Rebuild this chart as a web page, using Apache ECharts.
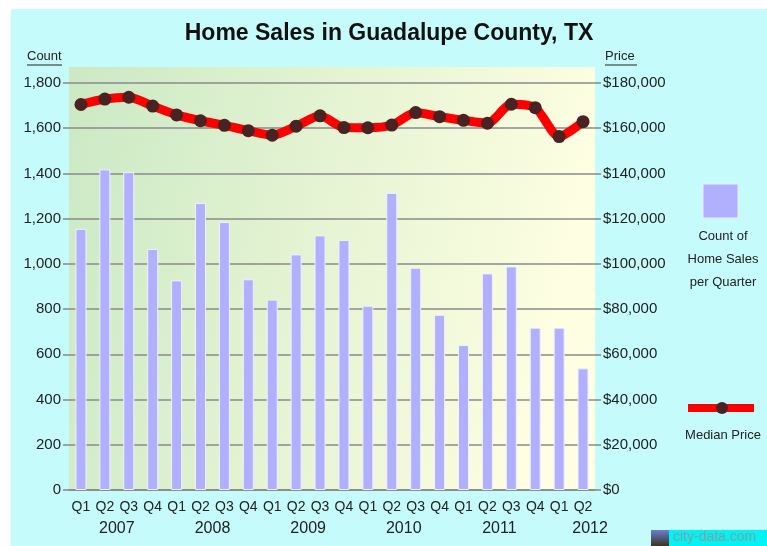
<!DOCTYPE html>
<html lang="en">
<head>
    <meta charset="UTF-8">
    <title>Home Sales in Guadalupe County, TX</title>
    <script type="text/javascript" src="https://cdn.jsdelivr.net/npm/echarts@6/dist/echarts.min.js"></script>
    <style>
        html, body { margin: 0; padding: 0; background: #fff; }
        #main { position: absolute; left: 11px; top: 9px; width: 756px; height: 537px; background: #c6fbfb; }
    </style>
</head>
<body>
<div id="main"></div>
<script>
    // quarters 2007 Q1 .. 2012 Q2
    var quarters = ['Q1','Q2','Q3','Q4','Q1','Q2','Q3','Q4','Q1','Q2','Q3','Q4',
                    'Q1','Q2','Q3','Q4','Q1','Q2','Q3','Q4','Q1','Q2'];
    var years = ['2007','2007','2007','2007','2008','2008','2008','2008','2009','2009','2009','2009',
                 '2010','2010','2010','2010','2011','2011','2011','2011','2012','2012'];
    var salesCount = [1155, 1418, 1406, 1066, 927, 1269, 1185, 932, 842, 1042, 1126, 1106,
                      815, 1314, 983, 775, 641, 958, 989, 718, 718, 538];
    var medianPrice = [170500, 172900, 173700, 169800, 165900, 163300, 161300, 158900, 156900, 160900, 165500, 160300,
                       160200, 161400, 166900, 165100, 163500, 162200, 170600, 169100, 156300, 162900];

    var myChart = echarts.init(document.getElementById('main'));
    var font = 'Arial, "Liberation Sans", sans-serif';
    var txt = '#222';

    var option = {
        animation: false,
        title: {
            text: 'Home Sales in Guadalupe County, TX',
            left: 'center',
            top: 8,
            textStyle: { fontFamily: font, fontSize: 23, fontWeight: 'bold', color: '#111' }
        },
        grid: { left: 58, right: 172, top: 74, bottom: 56 },
        graphic: [
            // plot background
            { type: 'rect', z: -10, shape: { x: 58, y: 58, width: 526, height: 423 },
              style: { fill: new echarts.graphic.LinearGradient(0, 0, 1, 0.25, [
                  { offset: 0, color: '#cbe9c4' }, { offset: 1, color: '#fefee2' }]) } },
            { type: 'text', left: 16, top: 41, style: { text: 'Count', font: '13px ' + font, fill: txt } },
            { type: 'line', shape: { x1: 16, y1: 56, x2: 51, y2: 56 }, style: { stroke: txt, lineWidth: 1 } },
            { type: 'text', left: 594, top: 41, style: { text: 'Price', font: '13px ' + font, fill: txt } },
            { type: 'line', shape: { x1: 594, y1: 56, x2: 626, y2: 56 }, style: { stroke: txt, lineWidth: 1 } },
            // legend
            { type: 'rect', shape: { x: 692, y: 175, width: 35, height: 34 },
              style: { fill: '#b0b0ff', stroke: '#eef', lineWidth: 1 } },
            { type: 'text', x: 712, y: 216, style: { text: 'Count of\nHome Sales\nper Quarter', align: 'center',
                font: '13px ' + font, fill: txt, lineHeight: 23 } },
            { type: 'rect', shape: { x: 677, y: 395, width: 66, height: 8 }, style: { fill: '#ff0000' } },
            { type: 'circle', shape: { cx: 711, cy: 399, r: 6 }, style: { fill: '#4a2222' } },
            { type: 'text', x: 712, y: 420, style: { text: 'Median Price', align: 'center',
                font: '13px ' + font, fill: txt } },
            // watermark
            { type: 'rect', shape: { x: 640, y: 521, width: 18, height: 16 },
              style: { fill: new echarts.graphic.LinearGradient(0, 0, 0, 1, [
                  { offset: 0, color: '#6a7fd0' }, { offset: 1, color: '#3a3320' }]) } },
            { type: 'rect', shape: { x: 658, y: 521, width: 98, height: 16 }, style: { fill: '#00f4f4' } },
            { type: 'text', x: 662, y: 521, style: { text: 'city-data.com', font: '14px ' + font, fill: '#8a9aa0' } }
        ],
        xAxis: [
            {
                type: 'category',
                data: quarters,
                boundaryGap: true,
                axisLine: { lineStyle: { color: '#888', width: 1.5 } },
                axisTick: { length: 4, lineStyle: { color: '#888', width: 1.5 } },
                axisLabel: { margin: 10, color: txt, fontFamily: font, fontSize: 14, interval: 0 }
            },
            {
                type: 'category',
                data: years,
                position: 'bottom',
                boundaryGap: true,
                axisLine: { show: false },
                axisTick: { length: 8, lineStyle: { color: '#888', width: 1.5 },
                    interval: function (i) { return i % 4 === 0; } },
                axisLabel: {
                    margin: 31,
                    interval: function (i) { return i % 4 === 1; },
                    formatter: function (v, i) { return i === 21 ? '{b|' + v + '}' : '{a|' + v + '}'; },
                    rich: {
                        a: { color: txt, fontFamily: font, fontSize: 16, padding: [0, 0, 0, 24] },
                        b: { color: txt, fontFamily: font, fontSize: 16, padding: [0, 0, 0, 14] }
                    }
                }
            }
        ],
        yAxis: [
            {
                type: 'value',
                min: 0, max: 1800, interval: 200,
                axisLine: { show: false },
                axisTick: { show: true, length: 6, lineStyle: { color: '#888', width: 1.5 } },
                splitLine: { lineStyle: { color: '#8a8a8a', width: 1.5 } },
                axisLabel: { margin: 8, color: txt, fontFamily: font, fontSize: 15,
                    formatter: function (v) { return v.toLocaleString('en-US'); } }
            },
            {
                type: 'value',
                min: 0, max: 180000, interval: 20000,
                position: 'right',
                axisLine: { show: false },
                axisTick: { show: true, length: 6, lineStyle: { color: '#888', width: 1.5 } },
                splitLine: { show: false },
                axisLabel: { margin: 8, color: txt, fontFamily: font, fontSize: 15,
                    formatter: function (v) { return '$' + v.toLocaleString('en-US'); } }
            }
        ],
        series: [
            {
                name: 'Count of Home Sales per Quarter',
                type: 'bar',
                data: salesCount,
                barWidth: 11,
                itemStyle: { color: '#b0b0ff', borderColor: '#f0f0ff', borderWidth: 1 }
            },
            {
                name: 'Median Price',
                type: 'line',
                yAxisIndex: 1,
                data: medianPrice,
                smooth: 0.25,
                symbol: 'circle',
                symbolSize: 13,
                lineStyle: { color: '#ff0000', width: 9 },
                itemStyle: { color: '#4a2222' },
                z: 5
            }
        ]
    };
    myChart.setOption(option);
</script>
</body>
</html>
